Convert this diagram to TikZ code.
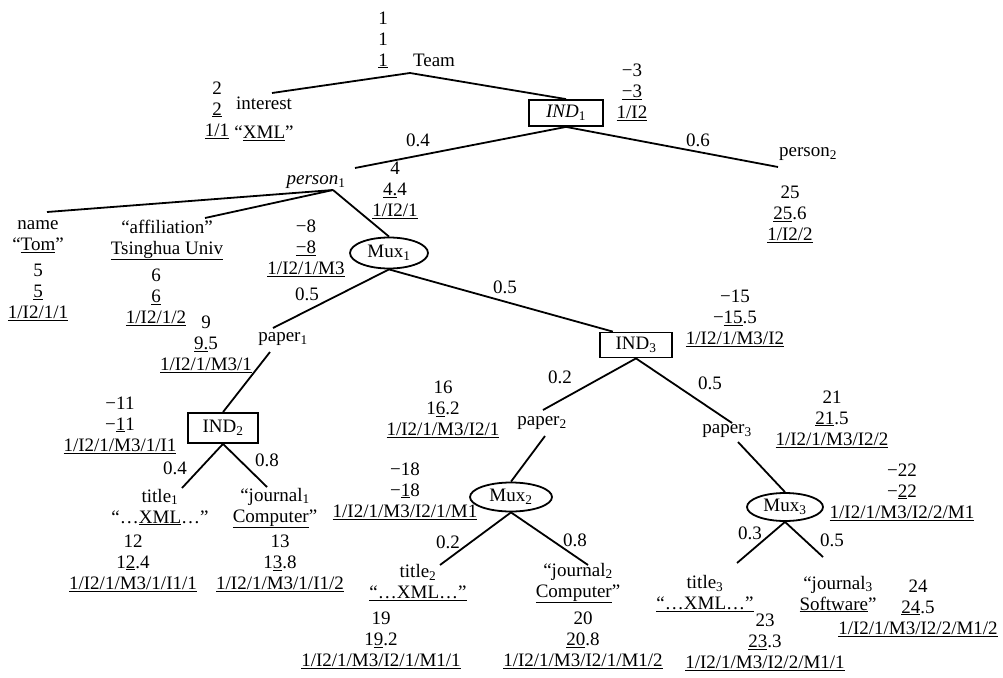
\documentclass[tikz,border=0pt]{standalone}
\usepackage{fontspec}
\setmainfont{Liberation Serif}
\usetikzlibrary{shapes.geometric}
\newcommand{\myul}[1]{\underline{#1}}
\newcommand{\sub}[1]{\textsubscript{#1}}
\begin{document}
\begin{tikzpicture}[x=1pt,y=-1pt,
  every node/.style={inner sep=0pt, font=\fontsize{19}{21}\selectfont, align=center},
  edge/.style={line width=1.8pt},
  boxn/.style={draw, line width=1.8pt, minimum width=74pt, minimum height=26pt},
  muxn/.style={ellipse, draw, line width=1.8pt, minimum width=78pt, minimum height=31pt}]
\useasboundingbox (0,0) rectangle (1003,677);
% ---- top level
\node (team) at (434,60) {Team};
\node (s1) at (383,40) {1\\1\\\myul{1}};
\coordinate (jteam) at (410,73);
\node (interest) at (264,103) {interest};
\node (xml0) at (264,133) {“\myul{XML}”};
\coordinate (jint) at (272,93);
\node (s2) at (217,110) {2\\\myul{2}\\\myul{1/1}};
\node[boxn] (ind1) at (566,113) {\textit{IND}\sub{1}};
\node (s3) at (632,92) {−3\\\myul{−3}\\\myul{1/I2}};
\draw[edge] (jint) -- (jteam) -- (ind1.north);
\coordinate (jp1top) at (355,168);
\coordinate (jp2) at (778,167);
\draw[edge] (ind1.south) -- (jp1top);
\draw[edge] (ind1.south) -- (jp2);
\node (l04a) at (418,140) {0.4};
\node (l06) at (698,140) {0.6};
\node (person1) at (316,182) {\textit{person}\sub{1}};
\node (person2) at (808,154) {person\sub{2}};
\node (s4) at (395,190) {4\\\myul{4.}4\\\myul{1/I2/1}};
\node (s25) at (790,214) {25\\\myul{25}.6\\\myul{1/I2/2}};
% ---- person1 children
\coordinate (jp1) at (333,190);
\coordinate (jname) at (47,212);
\coordinate (jaff) at (205,218);
\node[muxn] (mux1) at (389,253) {Mux\sub{1}};
\draw[edge] (jp1) -- (jname);
\draw[edge] (jp1) -- (jaff);
\draw[edge] (jp1) -- (mux1.north);
\node (name) at (38,237) {name\\“\myul{Tom}”};
\node (s5) at (38,292) {5\\\myul{5}\\\myul{1/I2/1/1}};
\node (aff) at (167,240) {“affiliation”\\\myul{Tsinghua Univ}};
\node (s6) at (156,297) {6\\\myul{6}\\\myul{1/I2/1/2}};
\node (s8) at (306,248) {−8\\\myul{−8}\\\myul{1/I2/1/M3}};
\node (l05a) at (307,294) {0.5};
\node (l05b) at (505,287) {0.5};
% ---- Mux1 children
\coordinate (jpaper1) at (273,328);
\node (paper1) at (283,339) {paper\sub{1}};
\coordinate (jpaper1b) at (270,352);
\node[boxn, minimum width=70pt, minimum height=30pt] (ind2) at (223,428) {IND\sub{2}};
\node[boxn, minimum width=72pt, minimum height=25pt] (ind3) at (636,345) {IND\sub{3}};
\draw[edge] (mux1.south) -- (jpaper1);
\draw[edge] (mux1.south) -- (ind3.150);
\draw[edge] (jpaper1b) -- (ind2.north);
\node (s9) at (206,344) {9\\\myul{9.}5\\\myul{1/I2/1/M3/1}};
\node (s11) at (120,425) {−11\\−\myul{1}1\\\myul{1/I2/1/M3/1/I1}};
\node (s15) at (735,318) {−15\\−\myul{15}.5\\\myul{1/I2/1/M3/I2}};
% ---- IND2 children
\coordinate (jt1) at (182,488);
\coordinate (jj1) at (267,487);
\draw[edge] (ind2.south) -- (jt1);
\draw[edge] (ind2.south) -- (jj1);
\node (l04b) at (175,468) {0.4};
\node (l08a) at (267,460) {0.8};
\node (title1) at (160,507) {title\sub{1}\\“…\myul{XML}…”};
\node (journal1) at (275,508) {“journal\sub{1}\\\myul{Computer}”};
\node (s12) at (133,563) {12\\1\myul{2}.4\\\myul{1/I2/1/M3/1/I1/1}};
\node (s13) at (280,563) {13\\1\myul{3}.8\\\myul{1/I2/1/M3/1/I1/2}};
% ---- IND3 children
\coordinate (jpaper2) at (543,410);
\coordinate (jpaper3) at (732,423);
\draw[edge] (ind3.south) -- (jpaper2);
\draw[edge] (ind3.south) -- (jpaper3);
\node (l02a) at (560,377) {0.2};
\node (l05c) at (710,383) {0.5};
\node (paper2) at (542,423) {paper\sub{2}};
\node (paper3) at (727,431) {paper\sub{3}};
\node (s16) at (443,409) {16\\1\myul{6}.2\\\myul{1/I2/1/M3/I2/1}};
\node (s21) at (832,419) {21\\\myul{21}.5\\\myul{1/I2/1/M3/I2/2}};
\node[muxn, minimum width=82pt, minimum height=29pt] (mux2) at (511,497) {Mux\sub{2}};
\node[muxn, minimum width=76pt, minimum height=28pt] (mux3) at (785,507) {Mux\sub{3}};
\coordinate (jpaper2b) at (545,436);
\coordinate (jpaper3b) at (738,442);
\draw[edge] (jpaper2b) -- (mux2.north);
\draw[edge] (jpaper3b) -- (mux3.north);
\node (s18) at (405,491) {−18\\−\myul{1}8\\\myul{1/I2/1/M3/I2/1/M1}};
\node (s22) at (902,492) {−22\\−\myul{2}2\\\myul{1/I2/1/M3/I2/2/M1}};
% ---- Mux2 / Mux3 children
\coordinate (jt2) at (440,565);
\coordinate (jj2) at (588,565);
\coordinate (jt3) at (737,563);
\coordinate (jj3) at (823,557);
\draw[edge] (mux2.south) -- (jt2);
\draw[edge] (mux2.south) -- (jj2);
\draw[edge] (mux3.south) -- (jt3);
\draw[edge] (mux3.south) -- (jj3);
\node (l02b) at (448,542) {0.2};
\node (l08b) at (575,540) {0.8};
\node (l03) at (750,533) {0.3};
\node (l05d) at (832,540) {0.5};
\node (title2) at (418,583) {title\sub{2}\\\myul{“…XML…”}};
\node (journal2) at (578,583) {“journal\sub{2}\\\myul{Computer}”};
\node (s19) at (381,640) {19\\1\myul{9}.2\\\myul{1/I2/1/M3/I2/1/M1/1}};
\node (s20) at (583,640) {20\\\myul{20}.8\\\myul{1/I2/1/M3/I2/1/M1/2}};
\node (title3) at (705,594) {title\sub{3}\\\myul{“…XML…”}};
\node (journal3) at (838,594) {“journal\sub{3}\\\myul{Software}”};
\node (s23) at (765,642) {23\\\myul{23}.3\\\myul{1/I2/1/M3/I2/2/M1/1}};
\node (s24) at (918,608) {24\\\myul{24}.5\\\myul{1/I2/1/M3/I2/2/M1/2}};
\end{tikzpicture}
\end{document}
